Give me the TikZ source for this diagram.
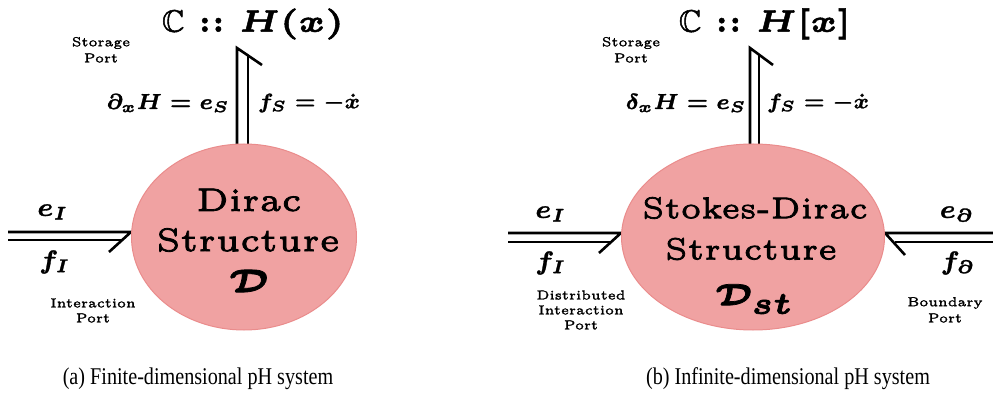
\documentclass[tikz,border=0pt]{standalone}
\usepackage{amsmath,amssymb}
\usepackage{graphicx}
\usepackage{fontspec}
\newfontfamily\capfont{Liberation Serif}
\usetikzlibrary{backgrounds,shapes.geometric}
\definecolor{blobfill}{HTML}{F0A2A2}
\definecolor{blobdraw}{HTML}{EA8C8C}
% scaled small-size text with a light stroke to thicken it
\newcommand{\hv}[3][0.12]{\scalebox{#2}{\special{pdf:literal direct 2 Tr #1 w}\fontsize{5}{6}\selectfont #3\special{pdf:literal direct 0 Tr}}}
\newcommand{\hm}[3][0.08]{\scalebox{#2}{\special{pdf:literal direct 2 Tr #1 w}\fontsize{7}{8}\selectfont #3\special{pdf:literal direct 0 Tr}}}
\tikzset{
  blob/.style={ellipse, fill=blobfill, draw=blobdraw, line width=1pt, inner sep=0pt},
  bond/.style={line width=2.6pt, line cap=butt, line join=miter},
  lbl/.style={inner sep=0pt, anchor=center},
}
\begin{document}
\begin{tikzpicture}[x=1pt,y=-1pt]
\useasboundingbox (0,0) rectangle (993,395);
\begin{scope}[on background layer]
\fill[white] (0,0) rectangle (993,395);
\end{scope}
% ---------- left panel ----------
\node[blob, minimum width=225pt, minimum height=186pt] (ellL) at (244,237) {};
\node[lbl] (dL1) at (249,200) {\hv{6.5}{Dirac}};
\node[lbl] (dL2) at (248,240) {\hv{6.5}{Structure}};
\node[lbl] (dL3) at (249,281) {\hv{6.5}{$\boldsymbol{\mathcal{D}}$}};
\node[lbl] (titL) at (253,24) {\hv[0.08]{6.2}{\boldmath$\mathbb{C}::H(x)$}};
\node[lbl] (spL1) at (101,43) {\hv[0.1]{2.6}{Storage}};
\node[lbl] (spL2) at (101,58) {\hv[0.1]{2.6}{Port}};
\node[lbl] (esL) at (168,103) {\hm{3.1}{\boldmath$\partial_x H = e_S$}};
\node[lbl] (fsL) at (309,103) {\hm{3.0}{\boldmath$f_S = -\dot{x}$}};
\node[lbl] (eIL) at (53,212) {\hm{3.7}{\boldmath$e_I$}};
\node[lbl] (fIL) at (55,262) {\hm{3.7}{\boldmath$f_I$}};
\node[lbl] (ipL1) at (93,303) {\hv[0.1]{2.6}{Interaction}};
\node[lbl] (ipL2) at (93,318) {\hv[0.1]{2.6}{Port}};
\coordinate (vL) at (237,48);
\coordinate (hL) at (8,232);
\begin{scope}[on background layer]
  \draw[bond] (vL |- ellL.center) -- (vL) -- ++(25,17);
  \draw[bond] (ellL.center -| 248,0) -- (248,55.5);
  \draw[bond] (hL) -- (ellL.west |- hL) -- ++(-22,20);
  \draw[bond] (8,240) -- (123.2,240);
\end{scope}
% ---------- right panel ----------
\node[blob, minimum width=263pt, minimum height=186pt] (ellR) at (753,237) {};
\node[lbl] (dR1) at (755,208) {\hv{6.0}{Stokes-Dirac}};
\node[lbl] (dR2) at (751,249) {\hv{6.1}{Structure}};
\node[lbl] (dR3) at (755,299) {\hv{6.1}{$\boldsymbol{\mathcal{D}_{st}}$}};
\node[lbl] (titR) at (765,24) {\hv[0.08]{6.2}{\boldmath$\mathbb{C}::H[x]$}};
\node[lbl] (spR1) at (631,43) {\hv[0.1]{2.6}{Storage}};
\node[lbl] (spR2) at (631,58) {\hv[0.1]{2.6}{Port}};
\node[lbl] (esR) at (686,103) {\hm{3.1}{\boldmath$\delta_x H = e_S$}};
\node[lbl] (fsR) at (818,103) {\hm{3.0}{\boldmath$f_S = -\dot{x}$}};
\node[lbl] (eIR) at (551,214) {\hm{3.7}{\boldmath$e_I$}};
\node[lbl] (fIR) at (551,263) {\hm{3.7}{\boldmath$f_I$}};
\node[lbl] (dpR1) at (581,295) {\hv[0.1]{2.6}{Distributed}};
\node[lbl] (dpR2) at (581,310) {\hv[0.1]{2.6}{Interaction}};
\node[lbl] (dpR3) at (581,325) {\hv[0.1]{2.6}{Port}};
\node[lbl] (ebR) at (957,214) {\hm{3.7}{\boldmath$e_\partial$}};
\node[lbl] (fbR) at (958,263) {\hm{3.7}{\boldmath$f_\partial$}};
\node[lbl] (bpR1) at (945,303) {\hv[0.1]{2.6}{Boundary}};
\node[lbl] (bpR2) at (945,318) {\hv[0.1]{2.6}{Port}};
\coordinate (vR) at (750,48);
\coordinate (hR) at (508,233);
\coordinate (hB) at (993,233);
\begin{scope}[on background layer]
  \draw[bond] (vR |- ellR.center) -- (vR) -- ++(23,17);
  \draw[bond] (ellR.center -| 759,0) -- (759,55.5);
  \draw[bond] (hR) -- (ellR.west |- hR) -- ++(-22,20);
  \draw[bond] (508,242) -- (612,242);
  \draw[bond] (hB) -- (ellR.east |- hB) -- ++(20,22);
  \draw[bond] (993,242) -- (895.2,242);
\end{scope}
% ---------- captions ----------
\node[lbl] (capA) at (198,379) {\scalebox{0.84}[1]{\capfont\fontsize{24}{26}\selectfont (a) Finite-dimensional pH system}};
\node[lbl] (capB) at (788,379) {\scalebox{0.84}[1]{\capfont\fontsize{24}{26}\selectfont (b) Infinite-dimensional pH system}};
\end{tikzpicture}
\end{document}
